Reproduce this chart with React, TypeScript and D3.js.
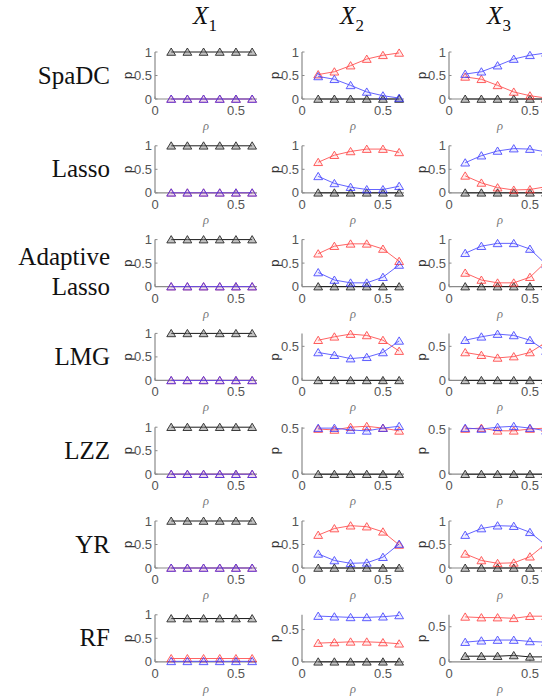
import React from "react";
import * as d3 from "d3";

const rho = [0.1, 0.2, 0.3, 0.4, 0.5, 0.6];
const methods = ["SpaDC", "Lasso", "Adaptive Lasso", "LMG", "LZZ", "YR", "RF"];
const variables = ["1", "2", "3"];
const xTicks = [0, 0.5];
const yTicks = [0, 0.5, 1];

// per method: [X1, X2, X3] series
const redSpaDC = [[0, 0, 0, 0, 0, 0], [0.52, 0.58, 0.71, 0.85, 0.93, 0.98], [0.47, 0.42, 0.29, 0.15, 0.07, 0.02]];
const blueSpaDC = [[0, 0, 0, 0, 0, 0], [0.48, 0.42, 0.29, 0.15, 0.07, 0.02], [0.53, 0.58, 0.71, 0.85, 0.93, 0.98]];
const blackSpaDC = [[1, 1, 1, 1, 1, 1], [0, 0, 0, 0, 0, 0], [0, 0, 0, 0, 0, 0]];

const redLasso = [[0, 0, 0, 0, 0, 0], [0.65, 0.8, 0.88, 0.93, 0.93, 0.86], [0.36, 0.21, 0.11, 0.06, 0.07, 0.13]];
const blueLasso = [[0, 0, 0, 0, 0, 0], [0.35, 0.2, 0.12, 0.07, 0.07, 0.14], [0.64, 0.79, 0.89, 0.94, 0.93, 0.87]];
const blackLasso = [[1, 1, 1, 1, 1, 1], [0, 0, 0, 0, 0, 0], [0, 0, 0, 0, 0, 0]];

const redAdaLasso = [[0, 0, 0, 0, 0, 0], [0.7, 0.86, 0.91, 0.91, 0.8, 0.54], [0.29, 0.14, 0.08, 0.08, 0.2, 0.53]];
const blueAdaLasso = [[0, 0, 0, 0, 0, 0], [0.3, 0.14, 0.08, 0.08, 0.2, 0.46], [0.71, 0.86, 0.92, 0.92, 0.8, 0.47]];
const blackAdaLasso = [[1, 1, 1, 1, 1, 1], [0, 0, 0, 0, 0, 0], [0, 0, 0, 0, 0, 0]];

const redLMG = [[0, 0, 0, 0, 0, 0], [0.59, 0.64, 0.68, 0.66, 0.59, 0.43], [0.41, 0.37, 0.33, 0.35, 0.41, 0.56]];
const blueLMG = [[0, 0, 0, 0, 0, 0], [0.41, 0.37, 0.32, 0.34, 0.41, 0.58], [0.59, 0.64, 0.68, 0.66, 0.59, 0.43]];
const blackLMG = [[1, 1, 1, 1, 1, 1], [0, 0, 0, 0, 0, 0], [0, 0, 0, 0, 0, 0]];

const redLZZ = [[0, 0, 0, 0, 0, 0], [0.49, 0.48, 0.51, 0.52, 0.5, 0.47], [0.5, 0.51, 0.48, 0.48, 0.5, 0.51]];
const blueLZZ = [[0, 0, 0, 0, 0, 0], [0.5, 0.5, 0.48, 0.47, 0.5, 0.52], [0.51, 0.5, 0.52, 0.53, 0.51, 0.48]];
const blackLZZ = [[1, 1, 1, 1, 1, 1], [0, 0, 0, 0, 0, 0], [0, 0, 0, 0, 0, 0]];

const redYR = [[0, 0, 0, 0, 0, 0], [0.7, 0.84, 0.9, 0.88, 0.77, 0.49], [0.3, 0.16, 0.1, 0.11, 0.24, 0.52]];
const blueYR = [[0, 0, 0, 0, 0, 0], [0.3, 0.16, 0.1, 0.11, 0.23, 0.51], [0.7, 0.84, 0.9, 0.89, 0.76, 0.48]];
const blackYR = [[1, 1, 1, 1, 1, 1], [0, 0, 0, 0, 0, 0], [0, 0, 0, 0, 0, 0]];

const redRF = [[0.07, 0.07, 0.07, 0.07, 0.07, 0.07], [0.29, 0.3, 0.31, 0.31, 0.3, 0.28], [0.64, 0.63, 0.63, 0.62, 0.65, 0.65]];
const blueRF = [[0.01, 0.01, 0.01, 0.01, 0.01, 0.01], [0.71, 0.7, 0.69, 0.69, 0.7, 0.72], [0.28, 0.3, 0.31, 0.31, 0.29, 0.28]];
const blackRF = [[0.92, 0.92, 0.92, 0.92, 0.92, 0.92], [0, 0, 0, 0, 0, 0], [0.08, 0.08, 0.08, 0.09, 0.07, 0.07]];

// axis upper limits per method, per variable column
const yMaxX1 = [1, 1, 1, 1, 1, 1, 1];
const yMaxX2 = [1, 1, 1, 0.69, 0.51, 1, 0.73];
const yMaxX3 = [1, 1, 1, 0.69, 0.52, 1, 0.67];

const redAll = [redSpaDC, redLasso, redAdaLasso, redLMG, redLZZ, redYR, redRF];
const blueAll = [blueSpaDC, blueLasso, blueAdaLasso, blueLMG, blueLZZ, blueYR, blueRF];
const blackAll = [blackSpaDC, blackLasso, blackAdaLasso, blackLMG, blackLZZ, blackYR, blackRF];
const yMaxAll = [yMaxX1, yMaxX2, yMaxX3];

const W = 542;
const H = 698;
const colX0 = [155, 302, 449];
const rowY0 = 99;
const rowStep = 93.8;
const axW = 102;
const axH = 47;

const tri = "M0,-4L4.4,3.3L-4.4,3.3Z";

const seriesStyle = [
  { key: "black", stroke: "#2a2a2a", line: "#1a1a1a", fill: "rgba(120,120,120,0.45)", op: 1 },
  { key: "red", stroke: "#ff2f2f", line: "#ff4a4a", fill: "rgba(255,80,80,0.12)", op: 0.85 },
  { key: "blue", stroke: "#2f2fff", line: "#4a4aff", fill: "rgba(80,80,255,0.12)", op: 0.85 },
];

function Panel({ r, c }: { r: number; c: number }) {
  const x0 = colX0[c];
  const yZero = rowY0 + r * rowStep;
  const yMax = yMaxAll[c][r];
  const x = d3.scaleLinear().domain([0, 0.63]).range([x0, x0 + axW]);
  const y = d3.scaleLinear().domain([0, yMax]).range([yZero, yZero - axH]);
  const line = d3
    .line<number>()
    .x((_, i) => x(rho[i]))
    .y((d) => y(d));
  const data = [blackAll[r][c], redAll[r][c], blueAll[r][c]];
  const yt = yTicks.filter((t) => t <= yMax + 1e-9);
  const axisColor = "#8a8a8a";
  const textColor = "#555";
  return (
    <g>
      <line x1={x0} x2={x0} y1={yZero - axH} y2={yZero} stroke={axisColor} strokeWidth={1.2} />
      <line x1={x0} x2={x0 + axW} y1={yZero} y2={yZero} stroke={axisColor} strokeWidth={1.2} />
      {yt.map((t) => (
        <g key={"y" + t}>
          <line x1={x0} x2={x0 + 2.5} y1={y(t)} y2={y(t)} stroke={axisColor} strokeWidth={1} />
          <text
            x={x0 - 3}
            y={y(t)}
            dy="0.35em"
            textAnchor="end"
            fontFamily="Liberation Sans, Arial, sans-serif"
            fontSize={13}
            fill={textColor}
          >
            {t === 0 ? "0" : t === 1 ? "1" : "0.5"}
          </text>
        </g>
      ))}
      {xTicks.map((t) => (
        <g key={"x" + t}>
          <line x1={x(t)} x2={x(t)} y1={yZero} y2={yZero - 2.5} stroke={axisColor} strokeWidth={1} />
          <text
            x={x(t)}
            y={yZero + 16}
            textAnchor="middle"
            fontFamily="Liberation Sans, Arial, sans-serif"
            fontSize={13}
            fill={textColor}
          >
            {t === 0 ? "0" : "0.5"}
          </text>
        </g>
      ))}
      <text
        x={x0 + axW / 2}
        y={yZero + 31}
        textAnchor="middle"
        fontFamily="Liberation Serif, serif"
        fontStyle="italic"
        fontSize={12.5}
        fill="#777"
      >
        ρ
      </text>
      <text
        transform={`translate(${x0 - 23},${yZero - axH / 2}) rotate(-90)`}
        textAnchor="middle"
        fontFamily="Liberation Sans, Arial, sans-serif"
        fontSize={13}
        fill="#333"
      >
        p
      </text>
      {data.map((vals, si) => {
        const s = seriesStyle[si];
        return (
          <g key={s.key} opacity={s.op}>
            <path d={line(vals) || ""} fill="none" stroke={s.line} strokeWidth={1} />
            {vals.map((v, i) => (
              <path
                key={i}
                d={tri}
                transform={`translate(${x(rho[i])},${y(v)})`}
                fill={s.fill}
                stroke={s.stroke}
                strokeWidth={0.9}
              />
            ))}
          </g>
        );
      })}
    </g>
  );
}

export default function App() {
  return (
    <svg
      width={W}
      height={H}
      style={{ position: "absolute", left: 0, top: 0, background: "#fff" }}
    >
      <rect width={W} height={H} fill="#fff" />
      {variables.map((v, c) => (
        <text
          key={v}
          x={colX0[c] + 50}
          y={24}
          textAnchor="middle"
          fontFamily="Liberation Serif, serif"
          fontSize={25}
          fill="#111"
        >
          <tspan fontStyle="italic">X</tspan>
          <tspan fontSize={17} dy={7}>
            {v}
          </tspan>
        </text>
      ))}
      {methods.map((m, r) => {
        const mid = rowY0 + r * rowStep - axH / 2;
        const parts = m === "Adaptive Lasso" ? ["Adaptive", "Lasso"] : [m];
        return (
          <text
            key={m}
            textAnchor="end"
            fontFamily="Liberation Serif, Times New Roman, serif"
            fontSize={25}
            fill="#111"
          >
            {parts.map((p, i) => (
              <tspan
                key={p}
                x={110}
                y={mid + 8 + (parts.length === 2 ? -6 + i * 30 : 0)}
              >
                {p}
              </tspan>
            ))}
          </text>
        );
      })}
      {methods.map((_, r) =>
        variables.map((_, c) => <Panel key={r + "-" + c} r={r} c={c} />)
      )}
    </svg>
  );
}
